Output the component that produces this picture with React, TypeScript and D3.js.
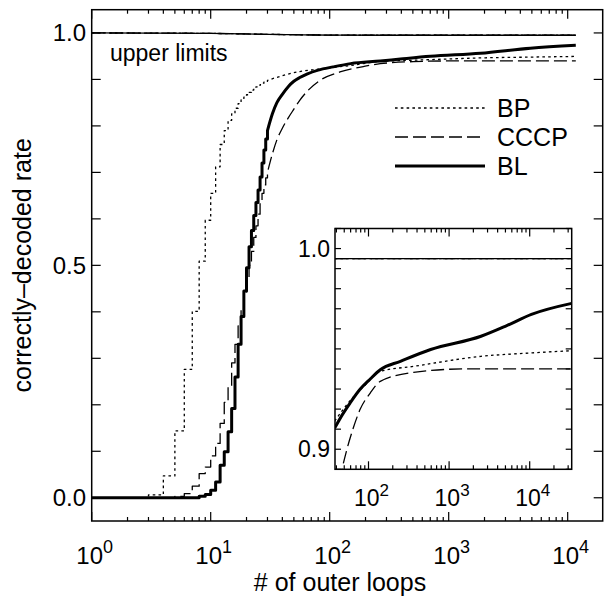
import React from 'react';
import * as d3 from 'd3';

// ---------- data (main panel) ----------
const stepN = [1,2,3,4,5,6,7,8,9,10,11,12,13,14,15,16,17,18,19,20,21,22,23,24,25,26,27,28,29,30];
const bpStep = [0,0,0.006,0.047,0.144,0.276,0.401,0.509,0.597,0.655,0.712,0.760,0.790,0.812,0.826,0.838,0.848,0.856,0.862,0.867,0.872,0.877,0.881,0.884,0.887,0.889,0.892,0.894,0.896,0.898];
const cccpStep = [0,0,0,0,0.003,0.009,0.025,0.052,0.066,0.09,0.117,0.16,0.205,0.24,0.29,0.33,0.37,0.41,0.44,0.47,0.50,0.53,0.56,0.585,0.61,0.635,0.655,0.673,0.688,0.70];
const blStep = [0,0,0,0,0,0,0,0.003,0.007,0.016,0.034,0.07,0.099,0.142,0.192,0.26,0.33,0.39,0.445,0.495,0.54,0.575,0.607,0.635,0.662,0.69,0.72,0.748,0.772,0.79];

const bpTailN = [30,40,56,80,100,150,266,504,1000,1848,4850,11700];
const bpTail = [0.898,0.908,0.917,0.922,0.925,0.930,0.9388,0.9413,0.944,0.9463,0.948,0.9495];
const cccpTailN = [30,33,36,40,45,50,56,65,83,122,204,266,504,1320,11700];
const cccpTail = [0.70,0.74,0.77,0.795,0.818,0.836,0.855,0.875,0.898,0.916,0.929,0.9338,0.9383,0.940,0.940];
const blTailN = [30,33,36,40,45,50,56,65,80,107,150,266,393,701,1848,4850,11700];
const blTail = [0.79,0.826,0.85,0.868,0.885,0.896,0.904,0.912,0.920,0.927,0.934,0.9396,0.9438,0.9497,0.9563,0.9672,0.9735];

const ulN = [1,10,30,60,100,300,11700];
const ulVal = [1.0,0.999,0.997,0.996,0.9953,0.995,0.995];

// ---------- data (inset) ----------
const inBpN = [38,51,68,91,140,362,2490,10500,33200];
const inBp = [0.914,0.921,0.927,0.932,0.9388,0.9413,0.9463,0.948,0.9491];
const inCcN = [44,47,54,64,79,105,140,362,1530,33200];
const inCc = [0.884,0.89,0.90,0.91,0.92,0.928,0.9338,0.9383,0.940,0.940];
const inBlN = [38,47,59,79,105,140,249,590,2490,5120,10500,33200];
const inBl = [0.9105,0.917,0.923,0.930,0.935,0.9396,0.9438,0.9497,0.9563,0.9615,0.9672,0.9727];
const inUlN = [38,33200];
const inUl = [0.995,0.995];

const mainYTicks = [0,0.1,0.2,0.3,0.4,0.5,0.6,0.7,0.8,0.9,1.0];
const mainYLabels = [0,0.5,1.0];
const mainXDecades = [1,10,100,1000,10000];
const insetYTicks = [0.89,0.90,0.91,0.92,0.93,0.94,0.95,0.96,0.97,0.98,0.99,1.00,1.01];
const insetYLabels = [0.9,1.0];
const insetXDecades = [100,1000,10000];
const legendNames = ['BP','CCCP','BL'];

// ---------- layout ----------
const W = 605, H = 597;
const M = { l: 91.7, r: 602.7, t: 9.7, b: 521 };
const I = { l: 335, r: 571.7, t: 228.5, b: 469.3 };
const FONT = '"Liberation Sans", Arial, Helvetica, sans-serif';

const styles: Record<string, { w: number; dash?: string }> = {
  BP: { w: 1.3, dash: '2.6,3.2' },
  CCCP: { w: 1.3, dash: '13,5' },
  BL: { w: 3 },
};

function minorTicks(lo: number, hi: number) {
  const out: number[] = [];
  for (let d = 1; d <= 1e5; d *= 10) {
    for (let k = 2; k <= 9; k++) {
      const v = k * d;
      if (v > lo && v < hi) out.push(v);
    }
  }
  return out;
}

const pts = (ns: number[], vs: number[]) => ns.map((n, i) => [n, vs[i]] as [number, number]);

function MainSeries({ x, y }: { x: any; y: any }) {
  const stepLine = d3.line<[number, number]>().x(d => x(d[0])).y(d => y(d[1])).curve(d3.curveStepAfter);
  const smooth = d3.line<[number, number]>().x(d => x(d[0])).y(d => y(d[1])).curve(d3.curveMonotoneX);
  const series = [
    { name: 'BP', step: bpStep, tn: bpTailN, tv: bpTail },
    { name: 'CCCP', step: cccpStep, tn: cccpTailN, tv: cccpTail },
    { name: 'BL', step: blStep, tn: blTailN, tv: blTail },
  ];
  const ulData = pts(ulN, ulVal);
  return (
    <g clipPath="url(#mainClip)">
      {series.map(s => (
        <path key={'ul' + s.name} d={smooth(ulData) || ''} fill="none" stroke="#000"
          strokeWidth={1.3} strokeDasharray={styles[s.name].dash} />
      ))}
      {series.map(s => {
        const d = (stepLine(pts(stepN, s.step)) || '') + (smooth(pts(s.tn, s.tv)) || '').replace(/^M/, 'L');
        return (
          <path key={s.name} d={d} fill="none" stroke="#000" strokeWidth={styles[s.name].w}
            strokeDasharray={styles[s.name].dash} strokeLinejoin="round" />
        );
      })}
    </g>
  );
}

function InsetSeries({ x, y }: { x: any; y: any }) {
  const smooth = d3.line<[number, number]>().x(d => x(d[0])).y(d => y(d[1])).curve(d3.curveMonotoneX);
  const series = [
    { name: 'BP', n: inBpN, v: inBp },
    { name: 'CCCP', n: inCcN, v: inCc },
    { name: 'BL', n: inBlN, v: inBl },
  ];
  const ulData = pts(inUlN, inUl);
  return (
    <g clipPath="url(#insetClip)">
      {series.map(s => (
        <path key={'ul' + s.name} d={smooth(ulData) || ''} fill="none" stroke="#000"
          strokeWidth={1.3} strokeDasharray={styles[s.name].dash} />
      ))}
      {series.map(s => (
        <path key={s.name} d={smooth(pts(s.n, s.v)) || ''} fill="none" stroke="#000"
          strokeWidth={styles[s.name].w} strokeDasharray={styles[s.name].dash} strokeLinejoin="round" />
      ))}
    </g>
  );
}

function Frame({ x, y, box, yTicks, xDecades, minorLen, majorLen, yLen }: any) {
  const [lo, hi] = x.domain();
  const minors = minorTicks(lo, hi);
  const majors = xDecades.filter((v: number) => v >= lo && v <= hi);
  return (
    <g stroke="#000" strokeWidth={1.2}>
      {minors.map((v: number) => (
        <g key={'m' + v}>
          <line x1={x(v)} x2={x(v)} y1={box.b} y2={box.b - minorLen} />
          <line x1={x(v)} x2={x(v)} y1={box.t} y2={box.t + minorLen} />
        </g>
      ))}
      {majors.map((v: number) => (
        <g key={'M' + v}>
          <line x1={x(v)} x2={x(v)} y1={box.b} y2={box.b - majorLen} />
          <line x1={x(v)} x2={x(v)} y1={box.t} y2={box.t + majorLen} />
        </g>
      ))}
      {yTicks.map((v: number) => (
        <g key={'y' + v}>
          <line x1={box.l} x2={box.l + yLen} y1={y(v)} y2={y(v)} />
          <line x1={box.r} x2={box.r - yLen} y1={y(v)} y2={y(v)} />
        </g>
      ))}
      <rect x={box.l} y={box.t} width={box.r - box.l} height={box.b - box.t} fill="none" strokeWidth={1.5} />
    </g>
  );
}

function Pow({ x, y, exp, size, supSize }: any) {
  return (
    <text x={x} y={y} textAnchor="middle" fontSize={size} fontFamily={FONT}>
      10<tspan fontSize={supSize} dy={-size * 0.45}>{exp}</tspan>
    </text>
  );
}

export default function App() {
  const mx = d3.scaleLog().domain([1, 19690]).range([M.l, M.r]);
  const my = d3.scaleLinear().domain([-0.05, 1.05]).range([M.b, M.t]);
  const ix = d3.scaleLog().domain([38.4, 33200]).range([I.l, I.r]);
  const iy = d3.scaleLinear().domain([0.89, 1.01]).range([I.b, I.t]);

  const legY = [108, 137, 166];

  return (
    <svg width={W} height={H} viewBox={`0 0 ${W} ${H}`} style={{ position: 'absolute', left: 0, top: 0, background: '#fff' }}>
      <defs>
        <clipPath id="mainClip"><rect x={M.l} y={M.t} width={M.r - M.l} height={M.b - M.t} /></clipPath>
        <clipPath id="insetClip"><rect x={I.l} y={I.t} width={I.r - I.l} height={I.b - I.t} /></clipPath>
      </defs>
      <rect x={0} y={0} width={W} height={H} fill="#fff" />
      <MainSeries x={mx} y={my} />
      <Frame x={mx} y={my} box={M} yTicks={mainYTicks} xDecades={mainXDecades} minorLen={4} majorLen={9} yLen={9} />
      {mainYLabels.map(v => (
        <text key={v} x={86} y={my(v) + 8.5} textAnchor="end" fontSize={24} fontFamily={FONT}>{v.toFixed(1)}</text>
      ))}
      {mainXDecades.map((v, i) => (
        <Pow key={v} x={mx(v) + 3} y={564} exp={String(i)} size={24} supSize={18} />
      ))}
      <text x={340} y={591} textAnchor="middle" fontSize={25} fontFamily={FONT}># of outer loops</text>
      <text transform={`translate(31,${(M.t + M.b) / 2}) rotate(-90)`} textAnchor="middle" fontSize={25} fontFamily={FONT}>correctly–decoded rate</text>
      <text x={110} y={61} fontSize={23} fontFamily={FONT}>upper limits</text>

      {legendNames.map((n, i) => (
        <g key={n}>
          <line x1={395} x2={485} y1={legY[i]} y2={legY[i]} stroke="#000" strokeWidth={styles[n].w} strokeDasharray={styles[n].dash} />
          <text x={497} y={legY[i] + 9} fontSize={25} fontFamily={FONT}>{n}</text>
        </g>
      ))}

      <rect x={I.l} y={I.t} width={I.r - I.l} height={I.b - I.t} fill="#fff" />
      <InsetSeries x={ix} y={iy} />
      <Frame x={ix} y={iy} box={I} yTicks={insetYTicks} xDecades={insetXDecades} minorLen={4} majorLen={8} yLen={6} />
      {insetYLabels.map(v => (
        <text key={v} x={I.l - 5} y={iy(v) + 8} textAnchor="end" fontSize={23} fontFamily={FONT}>{v.toFixed(1)}</text>
      ))}
      {insetXDecades.map((v, i) => (
        <Pow key={v} x={ix(v) + 3} y={506} exp={String(i + 2)} size={23} supSize={17} />
      ))}
    </svg>
  );
}
